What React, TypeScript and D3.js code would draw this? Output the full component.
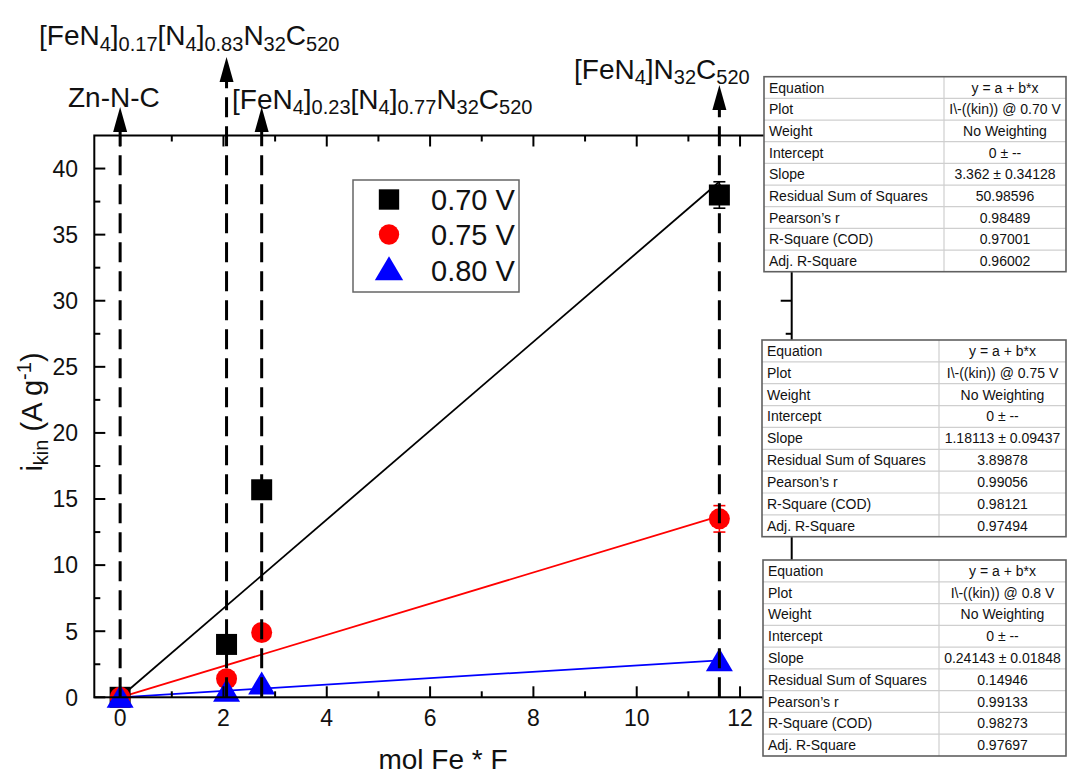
import React from "react";
import * as d3 from "d3";

// ---------- data ----------
const xValues = [0, 2.06, 2.74, 11.6];
const series070 = [0, 4.0, 15.7, 38.0];
const series075 = [0, 1.4, 4.9, 13.5];
const series080 = [0, 0.45, 1.0, 2.75];
const err070 = [0, 0, 0, 1.0];
const err075 = [0, 0, 0, 1.0];
const err080 = [0, 0, 0, 0];
const fitSlopes = [3.362, 1.18113, 0.24143];
const seriesNames = ["0.70 V", "0.75 V", "0.80 V"];
const xTicksMajor = [0, 2, 4, 6, 8, 10, 12];
const xTicksMinor = [1, 3, 5, 7, 9, 11];
const yTicksMajor = [0, 5, 10, 15, 20, 25, 30, 35, 40];
const yTicksMinor = [2.5, 7.5, 12.5, 17.5, 22.5, 27.5, 32.5, 37.5];

type Seg = [string, "n" | "s"];
const labelFe017: Seg[] = [["[FeN", "n"], ["4", "s"], ["]", "n"], ["0.17", "s"], ["[N", "n"], ["4", "s"], ["]", "n"], ["0.83", "s"], ["N", "n"], ["32", "s"], ["C", "n"], ["520", "s"]];
const labelZn: Seg[] = [["Zn-N-C", "n"]];
const labelFe023: Seg[] = [["[FeN", "n"], ["4", "s"], ["]", "n"], ["0.23", "s"], ["[N", "n"], ["4", "s"], ["]", "n"], ["0.77", "s"], ["N", "n"], ["32", "s"], ["C", "n"], ["520", "s"]];
const labelFe100: Seg[] = [["[FeN", "n"], ["4", "s"], ["]N", "n"], ["32", "s"], ["C", "n"], ["520", "s"]];
const sampleX = [2.06, 0, 2.74, 11.6];

const tableLabels = ["Equation", "Plot", "Weight", "Intercept", "Slope", "Residual Sum of Squares", "Pearson\u2019s r", "R-Square (COD)", "Adj. R-Square"];
const table070 = ["y = a + b*x", "I\\-((kin)) @ 0.70 V", "No Weighting", "0 \u00b1 --", "3.362 \u00b1 0.34128", "50.98596", "0.98489", "0.97001", "0.96002"];
const table075 = ["y = a + b*x", "I\\-((kin)) @ 0.75 V", "No Weighting", "0 \u00b1 --", "1.18113 \u00b1 0.09437", "3.89878", "0.99056", "0.98121", "0.97494"];
const table080 = ["y = a + b*x", "I\\-((kin)) @ 0.8 V", "No Weighting", "0 \u00b1 --", "0.24143 \u00b1 0.01848", "0.14946", "0.99133", "0.98273", "0.97697"];

const FONT = "'Liberation Sans', Arial, Helvetica, sans-serif";
const COLORS = ["#000000", "#ff0000", "#0000ff"];

function Formula({ segs, x, y, size = 28, sub = 20, shift = 5.5 }: { segs: Seg[]; x: number; y: number; size?: number; sub?: number; shift?: number }) {
  let cur = 0;
  return (
    <text x={x} y={y} fontFamily={FONT} fill="#111">
      {segs.map((s, i) => {
        const target = s[1] === "s" ? shift : 0;
        const dy = target - cur;
        cur = target;
        return (
          <tspan key={i} dy={dy} fontSize={s[1] === "s" ? sub : size}>
            {s[0]}
          </tspan>
        );
      })}
    </text>
  );
}

function Marker({ kind, cx, cy, color, s = 1 }: { kind: number; cx: number; cy: number; color: string; s?: number }) {
  if (kind === 0) return <rect x={cx - 10.5 * s} y={cy - 10.5 * s} width={21 * s} height={21 * s} fill={color} />;
  if (kind === 1) return <circle cx={cx} cy={cy} r={10.5 * s} fill={color} />;
  const w = 13.5 * s;
  const h = 23 * s;
  const p = `M${cx},${cy - h * 0.55}L${cx + w},${cy + h * 0.45}L${cx - w},${cy + h * 0.45}Z`;
  return <path d={p} fill={color} />;
}

function Table({ left, top, right, bottom, divider, values }: { left: number; top: number; right: number; bottom: number; divider: number; values: string[] }) {
  const rh = (bottom - top) / tableLabels.length;
  return (
    <g fontFamily={FONT} fontSize={14} fill="#111">
      <rect x={left} y={top} width={right - left} height={bottom - top} fill="#fff" />
      {tableLabels.map((_, i) =>
        i > 0 ? <line key={"h" + i} x1={left} x2={right} y1={top + i * rh} y2={top + i * rh} stroke="#cfcfcf" strokeWidth={1.2} /> : null
      )}
      <line x1={divider} x2={divider} y1={top} y2={bottom} stroke="#cfcfcf" strokeWidth={1.2} />
      <rect x={left} y={top} width={right - left} height={bottom - top} fill="none" stroke="#606060" strokeWidth={1.6} />
      {tableLabels.map((t, i) => (
        <text key={"l" + i} x={left + 5} y={top + i * rh + rh / 2 + 5}>{t}</text>
      ))}
      {values.map((t, i) => (
        <text key={"v" + i} x={(divider + right) / 2} y={top + i * rh + rh / 2 + 5} textAnchor="middle">{t}</text>
      ))}
    </g>
  );
}

export default function App() {
  const W = 1067, H = 774;
  const x = d3.scaleLinear().domain([-0.5, 13]).range([94.3, 791.7]);
  const y = d3.scaleLinear().domain([0, 42.5]).range([697.3, 135.5]);
  const [x0, x1] = x.range();
  const [y0, y1] = y.range();
  const series = [series070, series075, series080];
  const errs = [err070, err075, err080];
  const line = d3.line<[number, number]>().x((d) => x(d[0])).y((d) => y(d[1]));
  const xEnd = xValues[xValues.length - 1];
  const arrowTips = [57, 107, 107, 85];

  return (
    <svg width={W} height={H} style={{ position: "absolute", left: 0, top: 0, background: "#fff" }}>
      <rect width={W} height={H} fill="#fff" />
      {/* fit lines */}
      {fitSlopes.map((b, i) => (
        <path key={"fit" + i} d={line([[0, 0], [xEnd, b * xEnd]]) || ""} stroke={COLORS[i]} strokeWidth={1.8} fill="none" />
      ))}
      {/* error bars */}
      {series.map((ser, si) =>
        ser.map((v, j) =>
          errs[si][j] > 0 ? (
            <g key={"e" + si + j} stroke={COLORS[si]} strokeWidth={1.6}>
              <line x1={x(xValues[j])} x2={x(xValues[j])} y1={y(v - errs[si][j])} y2={y(v + errs[si][j])} />
              <line x1={x(xValues[j]) - 6} x2={x(xValues[j]) + 6} y1={y(v - errs[si][j])} y2={y(v - errs[si][j])} />
              <line x1={x(xValues[j]) - 6} x2={x(xValues[j]) + 6} y1={y(v + errs[si][j])} y2={y(v + errs[si][j])} />
            </g>
          ) : null
        )
      )}
      {/* markers */}
      {series.map((ser, si) =>
        ser.map((v, j) => <Marker key={"m" + si + j} kind={si} cx={x(xValues[j])} cy={y(v)} color={COLORS[si]} />)
      )}
      {/* dashed sample lines + arrows */}
      {sampleX.map((sx, i) => {
        const cx = x(sx);
        const tip = arrowTips[i];
        return (
          <g key={"d" + i}>
            <line x1={cx} x2={cx} y1={y(0)} y2={tip + 22} stroke="#000" strokeWidth={3} strokeDasharray="20 9" />
            <path d={`M${cx},${tip}L${cx + 7},${tip + 25}L${cx - 7},${tip + 25}Z`} fill="#000" />
          </g>
        );
      })}
      {/* axes frame */}
      <rect x={x0} y={y1} width={x1 - x0} height={y0 - y1} fill="none" stroke="#000" strokeWidth={2} />
      {xTicksMajor.map((t) => (
        <g key={"xt" + t} stroke="#000" strokeWidth={2}>
          <line x1={x(t)} x2={x(t)} y1={y0} y2={y0 - 11} />
          <line x1={x(t)} x2={x(t)} y1={y1} y2={y1 + 11} />
        </g>
      ))}
      {xTicksMinor.map((t) => (
        <g key={"xm" + t} stroke="#000" strokeWidth={2}>
          <line x1={x(t)} x2={x(t)} y1={y0} y2={y0 - 6} />
          <line x1={x(t)} x2={x(t)} y1={y1} y2={y1 + 6} />
        </g>
      ))}
      {yTicksMajor.map((t) => (
        <g key={"yt" + t} stroke="#000" strokeWidth={2}>
          <line x1={x0} x2={x0 + 11} y1={y(t)} y2={y(t)} />
          <line x1={x1} x2={x1 - 11} y1={y(t)} y2={y(t)} />
        </g>
      ))}
      {yTicksMinor.map((t) => (
        <g key={"ym" + t} stroke="#000" strokeWidth={2}>
          <line x1={x0} x2={x0 + 6} y1={y(t)} y2={y(t)} />
          <line x1={x1} x2={x1 - 6} y1={y(t)} y2={y(t)} />
        </g>
      ))}
      {xTicksMajor.map((t) => (
        <text key={"xl" + t} x={x(t)} y={726} textAnchor="middle" fontFamily={FONT} fontSize={23} fill="#111">{t}</text>
      ))}
      {yTicksMajor.map((t) => (
        <text key={"yl" + t} x={78} y={y(t) + 8.3} textAnchor="end" fontFamily={FONT} fontSize={23} fill="#111">{t}</text>
      ))}
      {/* axis titles */}
      <text x={443} y={769} textAnchor="middle" fontFamily={FONT} fontSize={28} fill="#111">mol Fe * F</text>
      <text transform="translate(42,412) rotate(-90)" textAnchor="middle" fontFamily={FONT} fill="#111">
        <tspan fontSize={29}>i</tspan>
        <tspan fontSize={20} dy={6}>kin</tspan>
        <tspan fontSize={29} dy={-6}> (A g</tspan>
        <tspan fontSize={20} dy={-11}>-1</tspan>
        <tspan fontSize={29} dy={11}>)</tspan>
      </text>
      {/* legend */}
      <g>
        <rect x={353} y={180} width={166} height={112} fill="#fff" stroke="#666" strokeWidth={1.5} />
        {seriesNames.map((n, i) => (
          <g key={"lg" + i}>
            <Marker kind={i} cx={389} cy={199.5 + i * 35} color={COLORS[i]} s={i === 2 ? 1.05 : 0.97} />
            <text x={431} y={210 + i * 35.3} fontFamily={FONT} fontSize={29} fill="#111">{n}</text>
          </g>
        ))}
      </g>
      {/* sample labels */}
      <Formula segs={labelFe017} x={39} y={45} />
      <Formula segs={labelZn} x={68} y={106.5} />
      <Formula segs={labelFe023} x={232} y={108.5} />
      <Formula segs={labelFe100} x={574} y={78.5} />
      {/* fit tables */}
      <Table left={764} top={76.7} right={1066} bottom={271.7} divider={944} values={table070} />
      <Table left={762} top={340} right={1066} bottom={536.7} divider={939} values={table075} />
      <Table left={763} top={560} right={1066} bottom={756} divider={939} values={table080} />
    </svg>
  );
}
